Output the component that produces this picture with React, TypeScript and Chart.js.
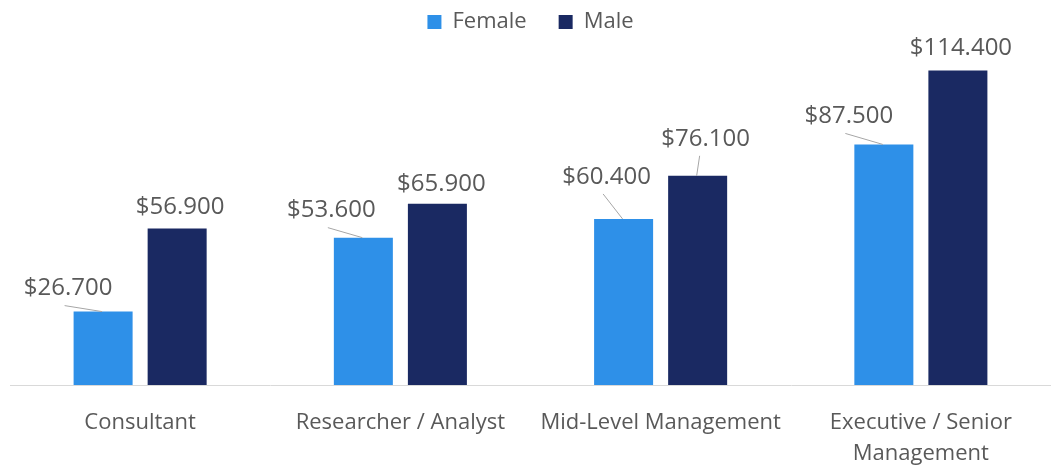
import React, { useEffect, useRef } from "react";
import { Chart, registerables } from "chart.js";

Chart.register(...registerables);

const categories: (string | string[])[] = [
  "Consultant",
  "Researcher / Analyst",
  "Mid-Level Management",
  ["Executive / Senior", "Management"],
];
const femaleValues = [26.7, 53.6, 60.4, 87.5];
const maleValues = [56.9, 65.9, 76.1, 114.4];
const femaleLabels = ["$26.700", "$53.600", "$60.400", "$87.500"];
const maleLabels = ["$56.900", "$65.900", "$76.100", "$114.400"];

// label placement relative to the bar top centre (px), and whether a leader line is drawn
const femaleLabelOffsets = [
  [-35, -23, 1],
  [-32, -27, 1],
  [-17, -42, 1],
  [-35, -28, 1],
];
const maleLabelOffsets = [
  [3, -21, 0],
  [4, -20, 0],
  [8, -37, 1],
  [3, -22, 0],
];

const FONT = "'Open Sans', 'Noto Sans', sans-serif";
const TEXT = "#595959";
const FEMALE = "#2e90e8";
const MALE = "#1a2962";

const valueLabelPlugin = {
  id: "valueLabels",
  afterDatasetsDraw(chart: any) {
    const ctx = chart.ctx;
    const texts = [femaleLabels, maleLabels];
    const offs = [femaleLabelOffsets, maleLabelOffsets];
    ctx.save();
    chart.data.datasets.forEach((_ds: any, di: number) => {
      const meta = chart.getDatasetMeta(di);
      meta.data.forEach((bar: any, i: number) => {
        const [dx, dy, line] = offs[di][i];
        const lx = bar.x + dx;
        const ly = bar.y + dy;
        if (line) {
          ctx.strokeStyle = "#a6a6a6";
          ctx.lineWidth = 1;
          ctx.beginPath();
          ctx.moveTo(lx - (di === 0 ? 3.5 : 6), ly + 17);
          ctx.lineTo(bar.x - 1, bar.y);
          ctx.stroke();
        }
        ctx.fillStyle = TEXT;
        ctx.font = `24px ${FONT}`;
        ctx.textAlign = "center";
        ctx.textBaseline = "middle";
        ctx.fillText(texts[di][i], lx, ly);
      });
    });
    ctx.restore();
  },
};

export default function App() {
  const ref = useRef<HTMLCanvasElement | null>(null);
  useEffect(() => {
    if (!ref.current) return;
    const chart = new Chart(ref.current, {
      type: "bar",
      data: {
        labels: categories,
        datasets: [
          {
            label: "Female",
            data: femaleValues,
            backgroundColor: FEMALE,
            categoryPercentage: 0.569,
            barPercentage: 0.797,
          },
          {
            label: "Male",
            data: maleValues,
            backgroundColor: MALE,
            categoryPercentage: 0.569,
            barPercentage: 0.797,
          },
        ],
      },
      options: {
        animation: false,
        responsive: false,
        layout: { padding: { left: 10, right: 0, top: -21, bottom: 0 } },
        plugins: {
          tooltip: { enabled: false },
          legend: {
            position: "top",
            labels: {
              boxWidth: 14,
              boxHeight: 14,
              padding: 32,
              color: TEXT,
              font: { family: FONT, size: 22 },
            },
          },
        },
        scales: {
          x: {
            grid: { display: false },
            border: { display: true, color: "#d9d9d9", width: 1 },
            ticks: {
              color: TEXT,
              padding: 14,
              maxRotation: 0,
              autoSkip: false,
              font: { family: FONT, size: 22, lineHeight: 1.41 },
            },
            afterFit: (scale: any) => {
              scale.height = 84;
            },
          },
          y: {
            display: false,
            min: 0,
            max: 124.4,
          },
        },
      },
      plugins: [valueLabelPlugin],
    });
    return () => chart.destroy();
  }, []);
  return (
    <div style={{ position: "fixed", left: 0, top: 0, width: 1051, height: 469, background: "#fff" }}>
      <canvas ref={ref} width={1051} height={469} style={{ width: 1051, height: 469 }} />
    </div>
  );
}
